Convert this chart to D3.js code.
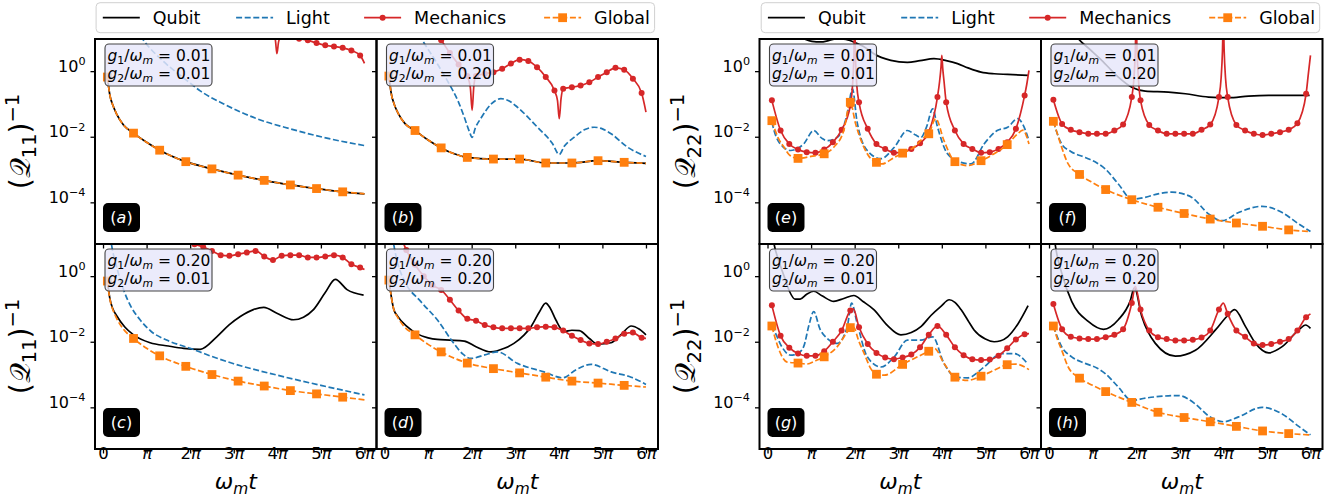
<!DOCTYPE html>
<html>
<head>
<meta charset="utf-8">
<script src="https://cdn.jsdelivr.net/npm/d3@7"></script>
<style>
body { margin: 0; background: #fff; }
text { font-family: "DejaVu Sans", sans-serif; white-space: pre; }
</style>
</head>
<body>
<script>
// time axis in units of pi, values given as log10 of (Q)^-1
var ticksX = [0, 1, 2, 3, 4, 5, 6];
var ticksY = [1, 1e-2, 1e-4];
var seriesNames = ['Qubit', 'Light', 'Mechanics', 'Global'];
var couplings = [['0.01', '0.01'], ['0.01', '0.20'], ['0.20', '0.01'], ['0.20', '0.20']];
var panelKeys = ['a', 'b', 'c', 'd', 'e', 'f', 'g', 'h'];

// (a) g1=0.01 g2=0.01, Q11
var qubitA = [[0.1,-0.18],[0.16,-0.75],[0.22,-1.02],[0.31,-1.3],[0.47,-1.64],[0.7,-1.89],[1.0,-2.17],[1.3,-2.41],[1.9,-2.76],[2.5,-2.98],[3.1,-3.17],[3.7,-3.33],[4.3,-3.47],[4.9,-3.58],[5.5,-3.68],[6.0,-3.74]];
var lightA = [[0.1,3.2],[0.5,1.9],[0.93,0.94],[1.4,0.28],[1.92,-0.28],[2.23,-0.6],[2.77,-1.0],[3.53,-1.45],[4.3,-1.76],[5.06,-2.02],[6.0,-2.27]];
var mechA = [[0.1,2.6],[1.1,2.0],[2.1,1.7],[3.1,1.5],[3.7,1.4],[3.9,1.3],[3.96,0.9],[3.99,0.53],[4.03,0.9],[4.1,1.08],[4.3,1.04],[4.5,0.99],[4.7,0.94],[4.9,0.86],[5.1,0.79],[5.3,0.75],[5.5,0.71],[5.7,0.63],[5.9,0.48],[6.0,0.24]];
var globalA = [[0.1,-0.18],[0.16,-0.75],[0.22,-1.02],[0.31,-1.3],[0.47,-1.64],[0.7,-1.89],[1.0,-2.17],[1.3,-2.41],[1.9,-2.76],[2.5,-2.98],[3.1,-3.17],[3.7,-3.33],[4.3,-3.47],[4.9,-3.58],[5.5,-3.68],[6.0,-3.74]];

// (b) g1=0.01 g2=0.20, Q11
var qubitB = [[0.1,-0.15],[0.16,-0.72],[0.22,-1.0],[0.31,-1.28],[0.47,-1.6],[0.7,-1.81],[1.0,-2.1],[1.3,-2.34],[1.6,-2.52],[1.9,-2.63],[2.5,-2.68],[3.1,-2.68],[3.7,-2.8],[4.3,-2.8],[4.9,-2.73],[5.5,-2.78],[6.0,-2.81]];
var lightB = [[0.1,3.0],[0.5,1.8],[0.87,0.94],[1.2,0.25],[1.48,-0.38],[1.7,-0.95],[1.83,-1.4],[1.95,-1.85],[2.01,-2.02],[2.08,-1.75],[2.23,-1.4],[2.45,-1.0],[2.67,-0.84],[2.85,-0.9],[3.05,-1.1],[3.51,-1.71],[3.85,-2.2],[4.01,-2.54],[4.12,-2.3],[4.35,-2.02],[4.6,-1.78],[4.81,-1.71],[5.0,-1.76],[5.2,-1.91],[5.58,-2.32],[6.0,-2.6]];
var mechB = [[0.1,2.8],[0.5,2.2],[0.9,1.6],[1.1,1.25],[1.3,0.94],[1.5,0.55],[1.7,0.2],[1.9,-0.15],[1.97,-0.5],[2.01,-1.2],[2.05,-0.45],[2.1,-0.15],[2.3,-0.08],[2.5,-0.03],[2.7,0.07],[2.9,0.23],[3.1,0.35],[3.3,0.31],[3.5,0.12],[3.7,-0.18],[3.9,-0.59],[3.97,-0.9],[4.01,-1.45],[4.05,-0.85],[4.1,-0.54],[4.3,-0.49],[4.5,-0.44],[4.7,-0.34],[4.9,-0.18],[5.1,-0.03],[5.3,0.1],[5.5,0.04],[5.7,-0.23],[5.9,-0.67],[6.0,-1.25]];
var globalB = [[0.1,-0.15],[0.16,-0.72],[0.22,-1.0],[0.31,-1.28],[0.47,-1.6],[0.7,-1.81],[1.0,-2.1],[1.3,-2.34],[1.6,-2.52],[1.9,-2.63],[2.5,-2.68],[3.1,-2.68],[3.7,-2.8],[4.3,-2.8],[4.9,-2.73],[5.5,-2.78],[6.0,-2.81]];

// (c) g1=0.20 g2=0.01, Q11
var qubitC = [[0.1,-0.15],[0.16,-0.7],[0.22,-0.98],[0.31,-1.2],[0.5,-1.55],[0.7,-1.79],[1.08,-2.03],[1.5,-2.13],[1.85,-2.2],[2.23,-2.23],[2.61,-1.85],[2.9,-1.48],[3.15,-1.23],[3.45,-1.02],[3.69,-0.95],[3.99,-1.13],[4.37,-1.33],[4.6,-1.25],[4.83,-1.02],[5.1,-0.5],[5.33,-0.1],[5.6,-0.41],[5.98,-0.58]];
var lightC = [[0.1,2.0],[0.2,0.92],[0.3,0.35],[0.47,-0.41],[0.65,-0.95],[0.85,-1.33],[1.1,-1.68],[1.46,-1.95],[2.0,-2.2],[2.5,-2.45],[3.0,-2.67],[4.0,-3.02],[5.0,-3.33],[6.0,-3.62]];
var mechC = [[0.1,3.0],[0.9,2.2],[1.5,1.5],[1.9,1.05],[2.1,0.97],[2.3,0.89],[2.5,0.77],[2.7,0.64],[2.9,0.62],[3.1,0.67],[3.3,0.72],[3.5,0.77],[3.7,0.6],[3.9,0.49],[4.1,0.62],[4.3,0.64],[4.5,0.64],[4.7,0.57],[4.9,0.57],[5.1,0.6],[5.3,0.64],[5.5,0.57],[5.7,0.36],[5.9,0.26],[6.0,0.2]];
var globalC = [[0.1,-0.15],[0.16,-0.72],[0.22,-1.0],[0.31,-1.28],[0.47,-1.62],[0.7,-1.9],[1.0,-2.2],[1.3,-2.43],[1.9,-2.75],[2.5,-3.0],[3.1,-3.2],[3.7,-3.35],[4.3,-3.49],[4.9,-3.59],[5.5,-3.69],[6.0,-3.77]];

// (d) g1=0.20 g2=0.20, Q11
var qubitD = [[0.1,-0.12],[0.21,-1.0],[0.3,-1.22],[0.52,-1.54],[0.75,-1.76],[1.0,-1.88],[1.21,-1.93],[1.5,-1.95],[1.83,-1.98],[2.1,-2.15],[2.44,-2.31],[2.75,-2.2],[2.97,-2.05],[3.2,-1.8],[3.36,-1.54],[3.55,-1.1],[3.7,-0.82],[3.8,-0.97],[3.93,-1.33],[4.12,-1.69],[4.3,-1.65],[4.47,-1.66],[4.7,-1.9],[4.89,-2.07],[5.2,-2.03],[5.45,-1.75],[5.66,-1.52],[5.85,-1.62],[6.0,-1.79]];
var lightD = [[0.1,2.0],[0.21,0.98],[0.3,0.4],[0.44,-0.1],[0.83,-0.77],[1.21,-1.33],[1.59,-2.05],[1.8,-2.38],[1.98,-2.51],[2.3,-2.4],[2.59,-2.31],[3.05,-2.66],[3.66,-2.92],[4.09,-3.1],[4.4,-2.85],[4.74,-2.69],[5.2,-2.92],[5.66,-3.08],[6.0,-3.3]];
var mechD = [[0.1,2.4],[0.3,1.5],[0.5,0.8],[0.7,0.35],[0.9,0.0],[1.1,-0.28],[1.3,-0.42],[1.5,-0.72],[1.7,-1.05],[1.9,-1.3],[2.1,-1.36],[2.3,-1.49],[2.5,-1.56],[2.7,-1.59],[2.9,-1.59],[3.1,-1.59],[3.3,-1.59],[3.5,-1.56],[3.7,-1.54],[3.9,-1.56],[4.1,-1.66],[4.3,-1.82],[4.5,-1.95],[4.7,-2.05],[4.9,-2.07],[5.1,-2.0],[5.3,-1.9],[5.5,-1.76],[5.7,-1.72],[5.9,-1.88],[6.0,-1.9]];
var globalD = [[0.1,-0.12],[0.21,-1.0],[0.3,-1.25],[0.44,-1.52],[0.7,-1.79],[1.0,-2.08],[1.3,-2.31],[1.9,-2.65],[2.5,-2.82],[3.1,-2.95],[3.7,-3.08],[4.3,-3.2],[4.9,-3.26],[5.5,-3.33],[6.0,-3.38]];

// (e) g1=0.01 g2=0.01, Q22
var qubitE = [[0.1,1.6],[0.5,1.2],[0.83,0.99],[1.02,0.91],[1.22,0.89],[1.4,0.93],[1.6,0.99],[1.8,0.97],[2.06,0.84],[2.29,0.68],[2.44,0.53],[2.83,0.33],[3.21,0.27],[3.5,0.32],[3.82,0.38],[4.1,0.32],[4.36,0.23],[4.6,0.1],[4.9,-0.03],[5.2,-0.08],[5.51,-0.1],[5.98,-0.13]];
var lightE = [[0.1,-1.55],[0.15,-1.81],[0.35,-2.3],[0.53,-2.42],[0.7,-2.35],[0.83,-2.22],[1.06,-1.81],[1.25,-2.05],[1.37,-2.12],[1.6,-2.02],[1.83,-1.3],[1.95,-0.54],[2.05,-1.5],[2.29,-2.42],[2.6,-2.67],[2.91,-2.32],[3.21,-1.81],[3.4,-1.95],[3.52,-2.02],[3.65,-1.7],[3.79,-1.15],[3.9,-1.7],[4.13,-2.52],[4.44,-2.78],[4.67,-2.83],[4.97,-2.22],[5.27,-1.81],[5.51,-1.71],[5.74,-1.45],[5.85,-1.6],[6.0,-2.12]];
var mechE = [[0.1,-0.89],[0.3,-1.81],[0.5,-2.22],[0.7,-2.39],[0.9,-2.47],[1.1,-2.49],[1.3,-2.39],[1.5,-2.17],[1.7,-1.79],[1.9,-1.05],[1.95,-0.45],[1.98,0.35],[2.0,1.5],[2.02,0.35],[2.05,-0.45],[2.1,-0.95],[2.3,-1.76],[2.5,-2.22],[2.7,-2.37],[2.9,-2.49],[3.1,-2.47],[3.3,-2.37],[3.5,-2.2],[3.7,-1.86],[3.9,-0.79],[3.95,-0.3],[3.98,0.1],[4.0,0.48],[4.02,0.1],[4.05,-0.3],[4.1,-0.95],[4.3,-1.81],[4.5,-2.22],[4.7,-2.37],[4.9,-2.49],[5.1,-2.47],[5.3,-2.37],[5.5,-2.17],[5.7,-1.76],[5.9,-0.74],[5.95,-0.4],[6.0,0.02]];
var globalE = [[0.1,-1.51],[0.25,-2.05],[0.38,-2.32],[0.5,-2.55],[0.7,-2.66],[1.0,-2.6],[1.3,-2.52],[1.52,-2.32],[1.75,-1.81],[1.9,-0.95],[2.02,-1.6],[2.18,-2.22],[2.37,-2.67],[2.5,-2.78],[2.62,-2.83],[2.91,-2.63],[3.1,-2.5],[3.36,-2.32],[3.59,-2.02],[3.7,-1.91],[3.86,-1.45],[4.05,-2.12],[4.3,-2.76],[4.59,-2.88],[4.9,-2.73],[5.2,-2.52],[5.5,-2.24],[5.74,-1.91],[5.86,-1.8],[6.0,-2.22]];

// (f) g1=0.01 g2=0.20, Q22
var qubitF = [[0.1,2.2],[0.4,1.5],[0.67,0.99],[0.95,0.65],[1.21,0.33],[1.59,-0.18],[1.9,-0.49],[2.21,-0.61],[2.74,-0.64],[3.13,-0.69],[3.66,-0.79],[4.12,-0.81],[4.58,-0.76],[5.04,-0.74],[5.98,-0.74]];
var lightF = [[0.1,-1.53],[0.29,-2.22],[0.5,-2.45],[0.83,-2.63],[1.1,-2.8],[1.29,-2.98],[1.59,-3.44],[1.9,-3.9],[2.2,-3.85],[2.5,-3.74],[2.82,-3.69],[3.1,-3.75],[3.28,-3.85],[3.66,-4.35],[3.97,-4.56],[4.35,-4.31],[4.89,-4.12],[5.35,-4.31],[5.73,-4.66],[6.0,-4.89]];
var mechF = [[0.1,-0.87],[0.3,-1.61],[0.5,-1.79],[0.7,-1.86],[0.9,-1.91],[1.1,-1.91],[1.3,-1.91],[1.5,-1.81],[1.7,-1.63],[1.9,-0.79],[1.95,-0.2],[1.98,0.6],[2.0,1.6],[2.02,0.6],[2.05,-0.2],[2.1,-0.89],[2.3,-1.64],[2.5,-1.81],[2.7,-1.91],[2.9,-1.91],[3.1,-1.91],[3.3,-1.91],[3.5,-1.79],[3.7,-1.63],[3.9,-0.79],[3.95,-0.2],[3.98,0.6],[4.0,1.6],[4.02,0.6],[4.05,-0.2],[4.1,-0.79],[4.3,-1.64],[4.5,-1.81],[4.7,-1.91],[4.9,-1.95],[5.1,-1.91],[5.3,-1.86],[5.5,-1.79],[5.7,-1.59],[5.9,-0.69],[5.95,-0.1],[6.0,0.48]];
var globalF = [[0.1,-1.53],[0.2,-1.95],[0.29,-2.32],[0.44,-2.83],[0.7,-3.15],[1.0,-3.4],[1.3,-3.61],[1.9,-3.92],[2.5,-4.15],[3.1,-4.34],[3.7,-4.51],[4.3,-4.63],[4.9,-4.73],[5.5,-4.84],[6.0,-4.89]];

// (g) g1=0.20 g2=0.01, Q22
var qubitG = [[0.1,1.4],[0.15,0.98],[0.25,0.5],[0.38,0.0],[0.5,-0.45],[0.63,-0.7],[0.75,-0.7],[0.9,-0.55],[1.06,-0.46],[1.25,-0.6],[1.52,-0.77],[1.75,-0.68],[1.98,-0.59],[2.2,-0.78],[2.44,-1.02],[2.75,-1.5],[3.06,-1.79],[3.3,-1.72],[3.52,-1.54],[3.75,-1.2],[3.98,-0.92],[4.17,-0.72],[4.3,-0.8],[4.44,-1.02],[4.6,-1.35],[4.74,-1.64],[5.0,-1.92],[5.2,-2.0],[5.35,-1.97],[5.51,-1.85],[5.75,-1.45],[5.98,-0.9]];
var lightG = [[0.1,-1.5],[0.15,-1.64],[0.35,-2.2],[0.53,-2.41],[0.7,-2.35],[0.83,-2.15],[0.95,-1.5],[1.06,-1.08],[1.2,-1.6],[1.37,-1.9],[1.6,-2.05],[1.83,-1.54],[1.93,-0.82],[2.05,-1.4],[2.29,-2.46],[2.6,-2.77],[2.91,-2.46],[3.21,-1.95],[3.52,-1.95],[3.79,-1.85],[4.05,-2.66],[4.32,-3.08],[4.59,-3.1],[4.97,-2.77],[5.36,-2.36],[5.66,-2.36],[5.98,-2.69]];
var mechG = [[0.1,-0.89],[0.3,-1.82],[0.5,-2.18],[0.7,-2.36],[0.9,-2.43],[1.1,-2.43],[1.3,-2.29],[1.5,-2.0],[1.7,-1.66],[1.9,-1.05],[1.97,-1.0],[2.1,-1.56],[2.3,-2.07],[2.5,-2.34],[2.7,-2.48],[2.9,-2.53],[3.1,-2.48],[3.3,-2.39],[3.5,-2.17],[3.7,-1.79],[3.9,-1.52],[4.1,-1.79],[4.3,-2.17],[4.5,-2.41],[4.7,-2.53],[4.9,-2.56],[5.1,-2.54],[5.3,-2.43],[5.5,-2.2],[5.7,-1.93],[5.9,-1.77],[6.0,-1.75]];
var globalG = [[0.1,-1.52],[0.25,-2.2],[0.45,-2.62],[0.7,-2.65],[0.9,-2.68],[1.1,-2.58],[1.3,-2.46],[1.6,-2.15],[1.83,-1.7],[1.9,-1.57],[1.97,-1.55],[2.1,-2.0],[2.22,-2.36],[2.37,-2.82],[2.5,-2.99],[2.68,-3.02],[3.1,-2.69],[3.44,-2.46],[3.7,-2.29],[3.83,-2.2],[4.05,-2.66],[4.3,-3.08],[4.59,-3.18],[4.9,-3.05],[5.2,-2.87],[5.5,-2.7],[5.7,-2.68],[6.0,-2.85]];

// (h) g1=0.20 g2=0.20, Q22
var qubitH = [[0.1,1.4],[0.14,0.98],[0.29,0.1],[0.52,-0.77],[0.9,-1.38],[1.25,-1.62],[1.59,-1.33],[1.86,-0.77],[1.96,-0.36],[2.13,-1.23],[2.44,-2.05],[2.9,-2.44],[3.36,-2.26],[3.82,-1.64],[4.08,-1.23],[4.26,-1.02],[4.51,-1.54],[4.74,-2.05],[5.04,-2.34],[5.35,-2.15],[5.73,-1.64],[5.89,-1.49],[6.0,-1.59]];
var lightH = [[0.1,-1.52],[0.29,-2.15],[0.52,-2.46],[0.83,-2.66],[1.1,-2.8],[1.29,-2.97],[1.59,-3.38],[1.9,-3.79],[2.21,-3.72],[2.6,-3.66],[2.97,-3.64],[3.36,-3.9],[3.66,-4.26],[4.01,-4.44],[4.35,-4.29],[4.89,-4.0],[5.35,-4.2],[5.73,-4.58],[6.0,-4.84]];
var mechH = [[0.1,-0.85],[0.3,-1.62],[0.5,-1.85],[0.7,-1.9],[0.9,-1.92],[1.1,-1.92],[1.3,-1.86],[1.5,-1.79],[1.7,-1.62],[1.9,-0.82],[1.98,-0.31],[2.1,-1.02],[2.3,-1.66],[2.5,-1.86],[2.7,-1.92],[2.9,-1.96],[3.1,-1.96],[3.3,-1.94],[3.5,-1.87],[3.7,-1.66],[3.9,-1.02],[4.0,-0.82],[4.1,-1.15],[4.3,-1.66],[4.5,-1.85],[4.7,-2.05],[4.9,-2.1],[5.1,-2.07],[5.3,-2.0],[5.5,-1.92],[5.7,-1.66],[5.9,-1.25],[6.0,-1.15]];
var globalH = [[0.1,-1.52],[0.2,-1.95],[0.29,-2.25],[0.44,-2.77],[0.7,-3.11],[1.0,-3.33],[1.3,-3.52],[1.9,-3.85],[2.5,-4.15],[3.1,-4.31],[3.7,-4.44],[4.3,-4.58],[4.9,-4.72],[5.5,-4.8],[6.0,-4.84]];

// layout
var W = 281.5, H = 205;
var colLeft = [95, 376.5, 759.5, 1041];
var rowTop = [39, 244];
var xDomain = [-0.184, 6.276];
var yDomain = [Math.pow(10, -5.27), Math.pow(10, 0.98)];
var colors = { qubit: '#000000', light: '#1f77b4', mech: '#d62728', global: '#ff7f0e' };
var dash = '6,2.6';

var panels = [
    { key: 'a', col: 0, row: 0, c: 0, data: [qubitA, lightA, mechA, globalA] },
    { key: 'b', col: 1, row: 0, c: 1, data: [qubitB, lightB, mechB, globalB] },
    { key: 'c', col: 0, row: 1, c: 2, data: [qubitC, lightC, mechC, globalC] },
    { key: 'd', col: 1, row: 1, c: 3, data: [qubitD, lightD, mechD, globalD] },
    { key: 'e', col: 2, row: 0, c: 0, data: [qubitE, lightE, mechE, globalE] },
    { key: 'f', col: 3, row: 0, c: 1, data: [qubitF, lightF, mechF, globalF] },
    { key: 'g', col: 2, row: 1, c: 2, data: [qubitG, lightG, mechG, globalG] },
    { key: 'h', col: 3, row: 1, c: 3, data: [qubitH, lightH, mechH, globalH] }
];

var svg = d3.select('body')
    .append('svg')
    .attr('width', 1340)
    .attr('height', 504);

// writes math-like text: parts are [text, flags] with i=italic, b=sub, p=sup
function addParts(textSel, parts, size) {
    var shift = 0;
    parts.forEach(function (p) {
        var fl = p[1] || '';
        var target = fl.indexOf('b') >= 0 ? size * 0.22 : fl.indexOf('p') >= 0 ? -size * 0.4 : 0;
        var small = fl.indexOf('b') >= 0 || fl.indexOf('p') >= 0;
        textSel.append('tspan')
            .attr('dy', target - shift)
            .attr('font-size', small ? size * 0.7 : size)
            .attr('font-style', fl.indexOf('i') >= 0 ? 'italic' : 'normal')
            .text(p[0]);
        shift = target;
    });
}

function onGrid(t, step) {
    var k = (t - 0.1) / step;
    return Math.abs(k - Math.round(k)) < 0.02;
}

panels.forEach(function (p) {
    var left = colLeft[p.col], top = rowTop[p.row];
    var x = d3.scaleLinear().domain(xDomain).range([left, left + W]);
    var y = d3.scaleLog().domain(yDomain).range([top + H, top]);

    svg.append('clipPath')
        .attr('id', 'clip-' + p.key)
        .append('rect')
        .attr('x', left).attr('y', top)
        .attr('width', W).attr('height', H);

    var plot = svg.append('g').attr('clip-path', 'url(#clip-' + p.key + ')');

    var line = d3.line()
        .x(function (d) { return x(d[0]); })
        .y(function (d) { return y(Math.pow(10, d[1])); })
        .curve(d3.curveMonotoneX);

    // qubit
    plot.append('path').attr('d', line(p.data[0]))
        .attr('fill', 'none').attr('stroke', colors.qubit).attr('stroke-width', 1.7);
    // light
    plot.append('path').attr('d', line(p.data[1]))
        .attr('fill', 'none').attr('stroke', colors.light).attr('stroke-width', 1.7)
        .attr('stroke-dasharray', dash);
    // mechanics
    plot.append('path').attr('d', line(p.data[2]))
        .attr('fill', 'none').attr('stroke', colors.mech).attr('stroke-width', 1.7);
    plot.selectAll('.mdot')
        .data(p.data[2].filter(function (d) { return onGrid(d[0], 0.2); }))
        .enter().append('circle')
        .attr('cx', function (d) { return x(d[0]); })
        .attr('cy', function (d) { return y(Math.pow(10, d[1])); })
        .attr('r', 3)
        .attr('fill', colors.mech);
    // global
    plot.append('path').attr('d', line(p.data[3]))
        .attr('fill', 'none').attr('stroke', colors.global).attr('stroke-width', 1.7)
        .attr('stroke-dasharray', dash);
    plot.selectAll('.gsq')
        .data(p.data[3].filter(function (d) { return onGrid(d[0], 0.6); }))
        .enter().append('rect')
        .attr('x', function (d) { return x(d[0]) - 4.4; })
        .attr('y', function (d) { return y(Math.pow(10, d[1])) - 4.4; })
        .attr('width', 8.8).attr('height', 8.8)
        .attr('fill', colors.global);

    // axes
    var yAxis = d3.axisLeft(y).tickValues(ticksY).tickSize(4.5).tickPadding(5).tickFormat('');
    var gy = svg.append('g').attr('transform', 'translate(' + left + ',0)').call(yAxis);
    gy.select('.domain').remove();
    gy.selectAll('line').attr('stroke', '#000').attr('stroke-width', 1.3);
    if (p.col === 0 || p.col === 2) {
        gy.selectAll('.tick text').each(function (d) {
            var ex = Math.round(Math.log10(d));
            var t = d3.select(this).attr('font-family', 'DejaVu Sans').attr('fill', '#000');
            addParts(t, [['10'], [ex === 0 ? '0' : '\u2212' + (-ex), 'p']], 16);
        });
    }

    var xAxis = d3.axisBottom(x).tickValues(ticksX).tickSize(4.5).tickPadding(5).tickFormat('');
    var gx = svg.append('g').attr('transform', 'translate(0,' + (top + H) + ')').call(xAxis);
    gx.select('.domain').remove();
    gx.selectAll('line').attr('stroke', '#000').attr('stroke-width', 1.3);
    if (p.row === 1) {
        gx.selectAll('.tick text').each(function (d) {
            var t = d3.select(this).attr('font-family', 'DejaVu Sans').attr('fill', '#000');
            if (d === 0) addParts(t, [['0']], 16.5);
            else if (d === 1) addParts(t, [['\u03c0', 'i']], 16.5);
            else addParts(t, [[String(d)], ['\u03c0', 'i']], 16.5);
        });
        var xl = svg.append('text')
            .attr('x', left + W / 2).attr('y', 489)
            .attr('text-anchor', 'middle');
        addParts(xl, [['\u03c9', 'i'], ['m', 'ib'], ['t', 'i']], 22);
    }

    // frame
    svg.append('rect')
        .attr('x', left).attr('y', top)
        .attr('width', W).attr('height', H)
        .attr('fill', 'none').attr('stroke', '#000').attr('stroke-width', 2);

    // coupling box
    svg.append('rect')
        .attr('x', left + 10).attr('y', top + 5)
        .attr('width', 107).attr('height', 42).attr('rx', 4)
        .attr('fill', '#e6e6fa').attr('fill-opacity', 0.82)
        .attr('stroke', '#444').attr('stroke-width', 1.1);
    var cp = couplings[p.c];
    [0, 1].forEach(function (k) {
        var t = svg.append('text')
            .attr('x', left + 12.5).attr('y', top + 22 + k * 17.5);
        addParts(t, [['g', 'i'], [String(k + 1), 'b'], ['/'], ['\u03c9', 'i'], ['m', 'ib'], [' = ' + cp[k]]], 15.5);
    });

    // panel label
    svg.append('rect')
        .attr('x', left + 8).attr('y', top + 164)
        .attr('width', 37).attr('height', 29).attr('rx', 5)
        .attr('fill', '#000');
    var pl = svg.append('text')
        .attr('x', left + 26.5).attr('y', top + 184)
        .attr('text-anchor', 'middle').attr('fill', '#fff');
    addParts(pl, [['('], [p.key, 'i'], [')']], 16);
});

// y labels
[0, 1].forEach(function (grp) {
    [0, 1].forEach(function (row) {
        var cy = rowTop[row] + H / 2;
        var cx = grp === 0 ? 30 : 695;
        var t = svg.append('text')
            .attr('transform', 'translate(' + cx + ',' + cy + ') rotate(-90)')
            .attr('text-anchor', 'middle')
            .attr('dy', '0.35em');
        var sub = grp === 0 ? '11' : '22';
        addParts(t, [['('], ['\ud835\udcac'], [sub, 'b'], [')'], ['\u22121', 'p']], 28);
    });
});

// legends
var legendX = [96.1, 761.2];
var itemOffsets = [6.7, 140, 268, 448];
legendX.forEach(function (lx) {
    var lg = svg.append('g').attr('transform', 'translate(' + lx + ',2.7)');
    lg.append('rect')
        .attr('width', 558.5).attr('height', 30).attr('rx', 4)
        .attr('fill', '#fff').attr('fill-opacity', 0.8)
        .attr('stroke', '#d0d0d0').attr('stroke-width', 1);
    var styles = [
        { c: colors.qubit, d: null, m: null },
        { c: colors.light, d: dash, m: null },
        { c: colors.mech, d: null, m: 'circle' },
        { c: colors.global, d: dash, m: 'square' }
    ];
    seriesNames.forEach(function (name, i) {
        var ox = itemOffsets[i], s = styles[i];
        lg.append('line')
            .attr('x1', ox).attr('x2', ox + 37)
            .attr('y1', 15).attr('y2', 15)
            .attr('stroke', s.c).attr('stroke-width', 1.7)
            .attr('stroke-dasharray', s.d);
        if (s.m === 'circle') {
            lg.append('circle').attr('cx', ox + 18.5).attr('cy', 15).attr('r', 3).attr('fill', s.c);
        } else if (s.m === 'square') {
            lg.append('rect').attr('x', ox + 18.5 - 4.4).attr('y', 15 - 4.4)
                .attr('width', 8.8).attr('height', 8.8).attr('fill', s.c);
        }
        lg.append('text')
            .attr('x', ox + 50).attr('y', 21.2)
            .attr('font-size', 17.5)
            .text(name);
    });
});
</script>
</body>
</html>
